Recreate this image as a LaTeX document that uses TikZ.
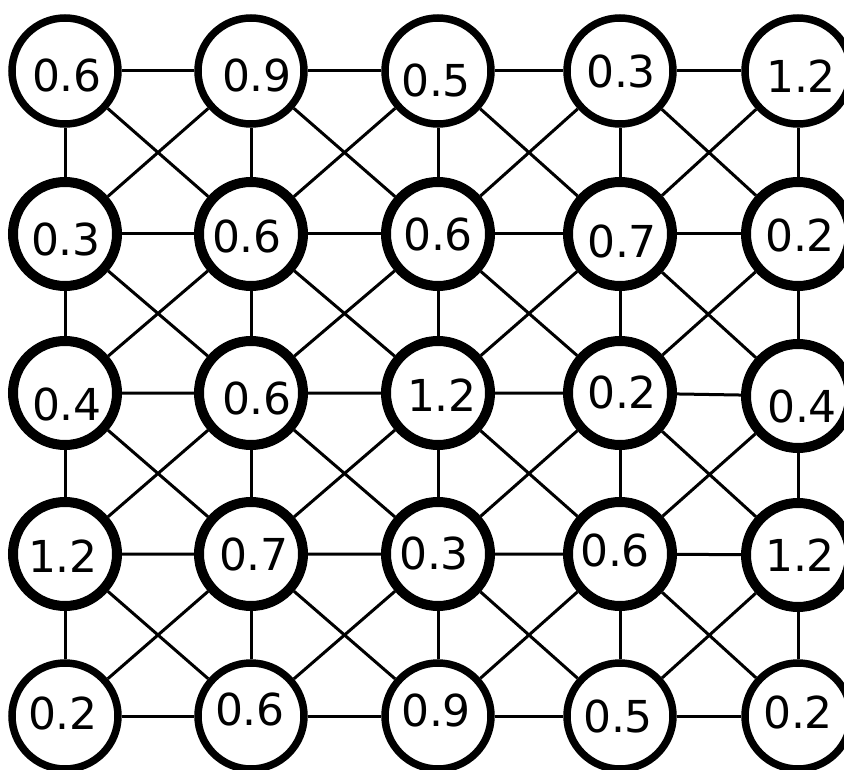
\documentclass[tikz,border=0pt]{standalone}
\usepackage{fontspec}
\setmainfont{DejaVu Sans}
\pgfdeclarelayer{paper}
\pgfdeclarelayer{links}
\pgfsetlayers{paper,links,main}
\begin{document}
\begin{tikzpicture}[x=1pt,y=-1pt,
  nd/.style={circle, draw=black, fill=white, inner sep=0pt},
  edgenode/.style={nd, line width=7.5pt, minimum size=106pt},
  midnode/.style={nd, line width=10pt, minimum size=104pt},
  val/.style={inner sep=0pt, font=\fontsize{44}{53}\selectfont},
  conn/.style={line width=3pt, draw=black}]
\begin{pgfonlayer}{paper}
\fill[white] (0,0) rectangle (844,770);
\end{pgfonlayer}
\useasboundingbox (0,0) rectangle (844,770);
\node[edgenode] (n00) at (65,71) {};
\node[edgenode] (n01) at (251,71) {};
\node[edgenode] (n02) at (438,71) {};
\node[edgenode] (n03) at (620,71) {};
\node[edgenode] (n04) at (798,71) {};
\node[midnode] (n10) at (65,234) {};
\node[midnode] (n11) at (251,234) {};
\node[midnode] (n12) at (438,234) {};
\node[midnode] (n13) at (620,234) {};
\node[midnode] (n14) at (798,234) {};
\node[midnode] (n20) at (65,393) {};
\node[midnode] (n21) at (251,393) {};
\node[midnode] (n22) at (438,393) {};
\node[midnode] (n23) at (620,393) {};
\node[midnode] (n24) at (798,396) {};
\node[midnode] (n30) at (65,554) {};
\node[midnode] (n31) at (251,554) {};
\node[midnode] (n32) at (438,554) {};
\node[midnode] (n33) at (620,554) {};
\node[midnode] (n34) at (798,555) {};
\node[edgenode] (n40) at (65,716) {};
\node[edgenode] (n41) at (251,716) {};
\node[edgenode] (n42) at (438,716) {};
\node[edgenode] (n43) at (620,716) {};
\node[edgenode] (n44) at (798,716) {};
\node[val] (t00) at (67,75) {0.6};
\node[val] (t01) at (257,75) {0.9};
\node[val] (t02) at (436,80) {0.5};
\node[val] (t03) at (621,71) {0.3};
\node[val] (t04) at (801,76) {1.2};
\node[val] (t10) at (66,239) {0.3};
\node[val] (t11) at (247,236) {0.6};
\node[val] (t12) at (438,234) {0.6};
\node[val] (t13) at (622,241) {0.7};
\node[val] (t14) at (800,235) {0.2};
\node[val] (t20) at (67,404) {0.4};
\node[val] (t21) at (257,398) {0.6};
\node[val] (t22) at (442,395) {1.2};
\node[val] (t23) at (622,392) {0.2};
\node[val] (t24) at (802,406) {0.4};
\node[val] (t30) at (63,556) {1.2};
\node[val] (t31) at (254,554) {0.7};
\node[val] (t32) at (434,553) {0.3};
\node[val] (t33) at (615,550) {0.6};
\node[val] (t34) at (800,555) {1.2};
\node[val] (t40) at (63,713) {0.2};
\node[val] (t41) at (250,709) {0.6};
\node[val] (t42) at (436,710) {0.9};
\node[val] (t43) at (618,716) {0.5};
\node[val] (t44) at (798,712) {0.2};
\begin{pgfonlayer}{links}
\draw[conn] (n00)--(n01) (n01)--(n02) (n02)--(n03) (n03)--(n04);
\draw[conn] (n10)--(n11) (n11)--(n12) (n12)--(n13) (n13)--(n14);
\draw[conn] (n20)--(n21) (n21)--(n22) (n22)--(n23) (n23)--(n24);
\draw[conn] (n30)--(n31) (n31)--(n32) (n32)--(n33) (n33)--(n34);
\draw[conn] (n40)--(n41) (n41)--(n42) (n42)--(n43) (n43)--(n44);
\draw[conn] (n00)--(n10) (n10)--(n20) (n20)--(n30) (n30)--(n40);
\draw[conn] (n01)--(n11) (n11)--(n21) (n21)--(n31) (n31)--(n41);
\draw[conn] (n02)--(n12) (n12)--(n22) (n22)--(n32) (n32)--(n42);
\draw[conn] (n03)--(n13) (n13)--(n23) (n23)--(n33) (n33)--(n43);
\draw[conn] (n04)--(n14) (n14)--(n24) (n24)--(n34) (n34)--(n44);
\draw[conn] (n00)--(n11) (n01)--(n10) (n01)--(n12) (n02)--(n11) (n02)--(n13) (n03)--(n12) (n03)--(n14) (n04)--(n13);
\draw[conn] (n10)--(n21) (n11)--(n20) (n11)--(n22) (n12)--(n21) (n12)--(n23) (n13)--(n22) (n13)--(n24) (n14)--(n23);
\draw[conn] (n20)--(n31) (n21)--(n30) (n21)--(n32) (n22)--(n31) (n22)--(n33) (n23)--(n32) (n23)--(n34) (n24)--(n33);
\draw[conn] (n30)--(n41) (n31)--(n40) (n31)--(n42) (n32)--(n41) (n32)--(n43) (n33)--(n42) (n33)--(n44) (n34)--(n43);
\end{pgfonlayer}
\end{tikzpicture}
\end{document}
